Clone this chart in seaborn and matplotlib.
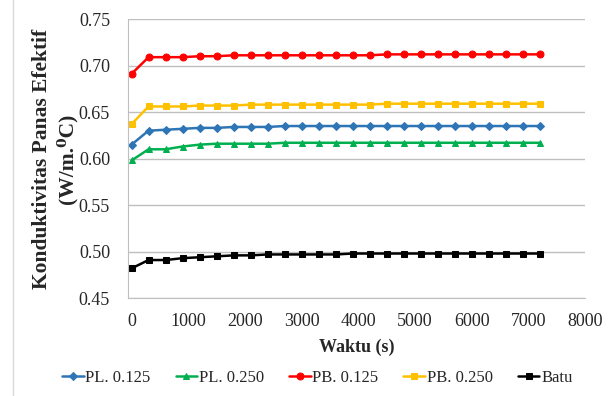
import numpy as np
import pandas as pd
import seaborn as sns
import matplotlib.pyplot as plt

# waktu (s), every 300 s
waktu = list(range(0, 7201, 300))

pl_0125 = [0.615, 0.630, 0.631, 0.632, 0.633, 0.633, 0.634, 0.634, 0.634, 0.635,
           0.635, 0.635, 0.635, 0.635, 0.635, 0.635, 0.635, 0.635, 0.635, 0.635,
           0.635, 0.635, 0.635, 0.635, 0.635]
pl_0250 = [0.598, 0.610, 0.610, 0.613, 0.615, 0.616, 0.616, 0.616, 0.616, 0.617,
           0.617, 0.617, 0.617, 0.617, 0.617, 0.617, 0.617, 0.617, 0.617, 0.617,
           0.617, 0.617, 0.617, 0.617, 0.617]
pb_0125 = [0.691, 0.709, 0.709, 0.709, 0.710, 0.710, 0.711, 0.711, 0.711, 0.711,
           0.711, 0.711, 0.711, 0.711, 0.711, 0.712, 0.712, 0.712, 0.712, 0.712,
           0.712, 0.712, 0.712, 0.712, 0.712]
pb_0250 = [0.637, 0.656, 0.656, 0.656, 0.657, 0.657, 0.657, 0.658, 0.658, 0.658,
           0.658, 0.658, 0.658, 0.658, 0.658, 0.659, 0.659, 0.659, 0.659, 0.659,
           0.659, 0.659, 0.659, 0.659, 0.659]
batu = [0.482, 0.491, 0.491, 0.493, 0.494, 0.495, 0.496, 0.496, 0.497, 0.497,
        0.497, 0.497, 0.497, 0.498, 0.498, 0.498, 0.498, 0.498, 0.498, 0.498,
        0.498, 0.498, 0.498, 0.498, 0.498]

labels = ['PL. 0.125', 'PL. 0.250', 'PB. 0.125', 'PB. 0.250', 'Batu']
series = [pl_0125, pl_0250, pb_0125, pb_0250, batu]
colors = ['#2E75B6', '#00B050', '#FF0000', '#FFC000', '#000000']
markers = ['D', '^', 'o', 's', 's']
msizes = [4, 5, 5, 5, 4]

df = pd.concat([pd.DataFrame({'Waktu': waktu, 'k': s, 'seri': l})
                for l, s in zip(labels, series)])

sns.set_style('white')
plt.rcParams['font.family'] = ['Liberation Serif', 'DejaVu Serif']

fig = plt.figure(figsize=(6.16, 3.96), dpi=100)
ax = fig.add_axes([0.208, 0.247, 0.742, 0.705])

for l, c, m, ms in zip(labels, colors, markers, msizes):
    sns.lineplot(data=df[df['seri'] == l], x='Waktu', y='k', color=c, marker=m,
                 markersize=ms, markeredgecolor=c, linewidth=1.8, label=l, ax=ax)

ax.set_xlim(-60, 8000)
ax.set_ylim(0.45, 0.75)
ax.set_xticks(range(0, 8001, 1000))
ax.set_yticks(np.arange(0.45, 0.751, 0.05))
ax.set_yticklabels(['%.2f' % v for v in np.arange(0.45, 0.751, 0.05)])
ax.yaxis.grid(True, color='#BFBFBF', linewidth=1)
ax.set_axisbelow(True)
for s in ['top', 'right']:
    ax.spines[s].set_visible(False)
for s in ['left', 'bottom']:
    ax.spines[s].set_color('#BFBFBF')
ax.tick_params(axis='x', direction='out', length=5, color='#BFBFBF', labelsize=13, pad=6)
ax.tick_params(axis='y', length=0, labelsize=13, pad=13)
ax.set_xlabel('Waktu (s)', fontsize=13, fontweight='bold', labelpad=6)
ax.set_ylabel('Konduktivitas Panas Efektif\n(W/m.\u2070C)', fontsize=15.5,
              fontweight='bold', labelpad=1, linespacing=1.25)

ax.get_legend().remove()
handles, hl = ax.get_legend_handles_labels()
fig.legend(handles, hl, loc='center', bbox_to_anchor=(0.515, 0.046), ncol=5, frameon=False,
           fontsize=12, handlelength=1.3, handletextpad=0.1, columnspacing=1.5,
           borderaxespad=0, borderpad=0)

fig.add_artist(plt.Line2D([0.021, 0.021], [0, 1], color='#D9D9D9', linewidth=1))
fig.savefig('out.png', dpi=100)
